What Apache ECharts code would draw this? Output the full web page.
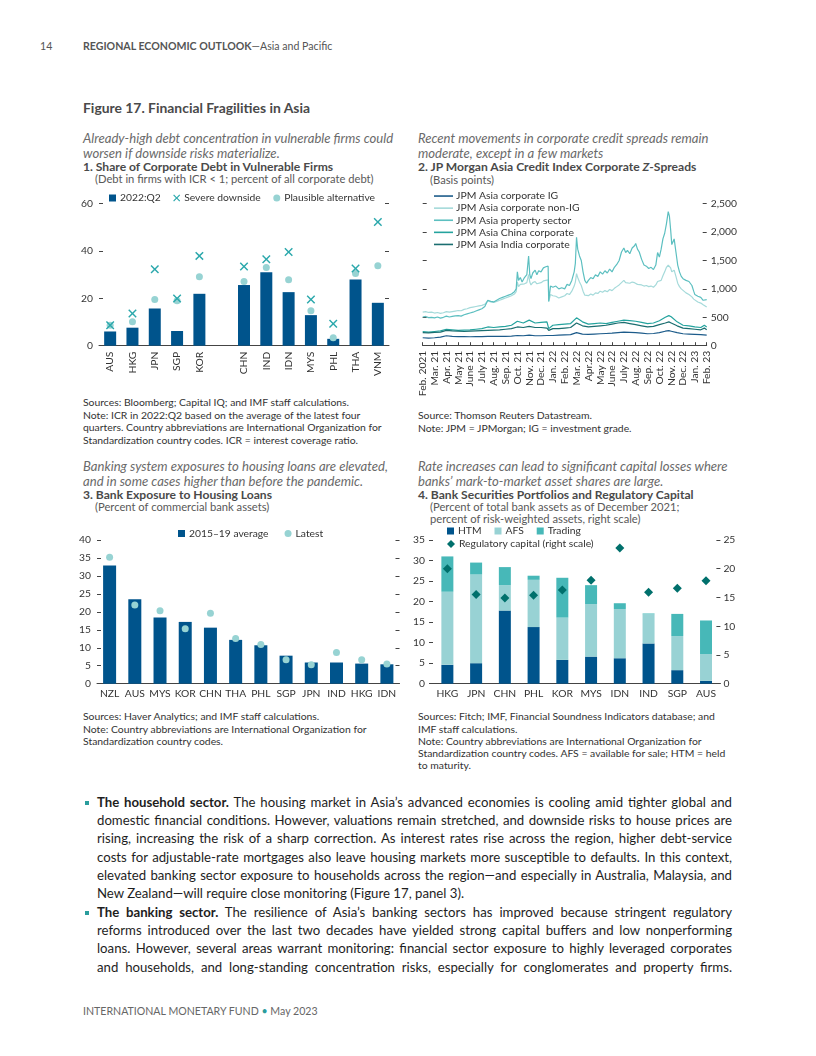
<!DOCTYPE html>
<html><head><meta charset="utf-8">
<script src="https://cdn.jsdelivr.net/npm/echarts@6.0.0/dist/echarts.min.js"></script>
<style>
html,body{margin:0;padding:0;background:#fff;}
#page{position:relative;width:816px;height:1056px;overflow:hidden;font-family:Lato,"Noto Sans",sans-serif;}
.t{position:absolute;white-space:nowrap;line-height:1;}
.hdr{font-size:10.6px;color:#555;}
.fig{font-size:13.9px;font-weight:bold;color:#4a4a4a;}
.ital{font-style:italic;color:#6a6a6a;font-size:13.1px;}
.ttl{font-weight:bold;color:#4a4a4a;font-size:12.1px;}
.sub{color:#595959;font-size:11.2px;}
.note{color:#333;font-size:10.4px;}
.body{color:#1e1e1e;font-size:13.2px;left:97px;width:635px;text-align:justify;text-align-last:justify;}
.last{text-align-last:left;}
.bul{position:absolute;left:85px;width:4px;height:4px;background:#2a9d9d;}
.chart{position:absolute;}
</style></head>
<body><div id="page">
<div class="t hdr" style="left:40px;top:41.2px;">14</div>
<div class="t hdr" style="left:83px;top:41.2px;"><b>REGIONAL ECONOMIC OUTLOOK</b>—Asia and Pacific</div>
<div class="t fig" style="left:83px;top:101.4px;">Figure 17. Financial Fragilities in Asia</div>

<div class="t ital" style="left:83px;top:131.8px;">Already-high debt concentration in vulnerable firms could</div>
<div class="t ital" style="left:83px;top:146.8px;">worsen if downside risks materialize.</div>
<div class="t ttl" style="left:83px;top:161.4px;">1. Share of Corporate Debt in Vulnerable Firms</div>
<div class="t sub" style="left:95px;top:172.9px;">(Debt in firms with ICR &lt; 1; percent of all corporate debt)</div>

<div class="t ital" style="left:418px;top:131.8px;">Recent movements in corporate credit spreads remain</div>
<div class="t ital" style="left:418px;top:146.8px;">moderate, except in a few markets</div>
<div class="t ttl" style="left:418px;top:161.4px;">2. JP Morgan Asia Credit Index Corporate <i>Z</i>-Spreads</div>
<div class="t sub" style="left:430px;top:173.8px;">(Basis points)</div>

<div class="t note" style="left:83px;top:397.3px;">Sources: Bloomberg; Capital IQ; and IMF staff calculations.</div>
<div class="t note" style="left:83px;top:409.7px;">Note: ICR in 2022:Q2 based on the average of the latest four</div>
<div class="t note" style="left:83px;top:422.1px;">quarters. Country abbreviations are International Organization for</div>
<div class="t note" style="left:83px;top:434.5px;">Standardization country codes. ICR = interest coverage ratio.</div>

<div class="t note" style="left:418px;top:410.3px;">Source: Thomson Reuters Datastream.</div>
<div class="t note" style="left:418px;top:422.7px;">Note: JPM = JPMorgan; IG = investment grade.</div>

<div class="t ital" style="left:83px;top:459.8px;">Banking system exposures to housing loans are elevated,</div>
<div class="t ital" style="left:83px;top:474.8px;">and in some cases higher than before the pandemic.</div>
<div class="t ttl" style="left:83px;top:489.4px;">3. Bank Exposure to Housing Loans</div>
<div class="t sub" style="left:95px;top:500.8px;">(Percent of commercial bank assets)</div>

<div class="t ital" style="left:418px;top:459.8px;">Rate increases can lead to significant capital losses where</div>
<div class="t ital" style="left:418px;top:474.8px;">banks’ mark-to-market asset shares are large.</div>
<div class="t ttl" style="left:418px;top:489.4px;">4. Bank Securities Portfolios and Regulatory Capital</div>
<div class="t sub" style="left:430px;top:500.8px;">(Percent of total bank assets as of December 2021;</div>
<div class="t sub" style="left:430px;top:512.8px;">percent of risk-weighted assets, right scale)</div>

<div class="t note" style="left:83px;top:711.3px;">Sources: Haver Analytics; and IMF staff calculations.</div>
<div class="t note" style="left:83px;top:723.5px;">Note: Country abbreviations are International Organization for</div>
<div class="t note" style="left:83px;top:735.7px;">Standardization country codes.</div>

<div class="t note" style="left:418px;top:711.3px;">Sources: Fitch; IMF, Financial Soundness Indicators database; and</div>
<div class="t note" style="left:418px;top:723.5px;">IMF staff calculations.</div>
<div class="t note" style="left:418px;top:735.7px;">Note: Country abbreviations are International Organization for</div>
<div class="t note" style="left:418px;top:747.9px;">Standardization country codes. AFS = available for sale; HTM = held</div>
<div class="t note" style="left:418px;top:760.1px;">to maturity.</div>

<div class="bul" style="top:801px;"></div>
<div class="t body" style="top:795.7px;"><b>The household sector.</b> The housing market in Asia’s advanced economies is cooling amid tighter global and</div>
<div class="t body" style="top:814px;">domestic financial conditions. However, valuations remain stretched, and downside risks to house prices are</div>
<div class="t body" style="top:832.3px;">rising, increasing the risk of a sharp correction. As interest rates rise across the region, higher debt-service</div>
<div class="t body" style="top:850.6px;">costs for adjustable-rate mortgages also leave housing markets more susceptible to defaults. In this context,</div>
<div class="t body" style="top:868.9px;">elevated banking sector exposure to households across the region—and especially in Australia, Malaysia, and</div>
<div class="t body last" style="top:887.2px;">New Zealand—will require close monitoring (Figure 17, panel 3).</div>
<div class="bul" style="top:911px;"></div>
<div class="t body" style="top:905.6px;"><b>The banking sector.</b> The resilience of Asia’s banking sectors has improved because stringent regulatory</div>
<div class="t body" style="top:923.9px;">reforms introduced over the last two decades have yielded strong capital buffers and low nonperforming</div>
<div class="t body" style="top:942.2px;">loans. However, several areas warrant monitoring: financial sector exposure to highly leveraged corporates</div>
<div class="t body" style="top:960.5px;">and households, and long-standing concentration risks, especially for conglomerates and property firms.</div>

<div class="t hdr" style="left:83px;top:1006.2px;color:#666;">INTERNATIONAL MONETARY FUND <span style="color:#2a9d9d;">•</span> May 2023</div>

<div id="c1" class="chart" style="left:75px;top:185px;width:335px;height:215px;"></div>
<div id="c2" class="chart" style="left:410px;top:185px;width:335px;height:215px;"></div>
<div id="c3" class="chart" style="left:75px;top:520px;width:335px;height:185px;"></div>
<div id="c4" class="chart" style="left:410px;top:520px;width:335px;height:185px;"></div>
</div>
<script>
// ---------- Panel 1 data ----------
const p1Countries = ['AUS','HKG','JPN','SGP','KOR','','CHN','IND','IDN','MYS','PHL','THA','VNM'];
const p1Q2 = [6.0,7.6,15.7,6.2,21.9,null,25.6,31.0,22.6,12.9,2.9,27.9,18.1];
const p1Severe = [8.6,13.6,32.3,19.9,37.9,null,33.4,36.5,39.5,19.5,9.3,32.6,52.2];
const p1Plausible = [8.6,10.1,19.5,19.0,29.1,null,27.1,33.0,27.8,14.7,3.4,30.5,33.7];

// ---------- Panel 2 data ----------
const p2Months = ['Feb. 2021','Mar. 21','Apr. 21','May 21','June 21','July 21','Aug. 21','Sep. 21','Oct. 21','Nov. 21','Dec. 21','Jan. 22','Feb. 22','Mar. 22','Apr.22','May 22','June 22','July 22','Aug. 22','Sep. 22','Oct. 22','Nov. 22','Dec. 22','Jan. 23','Feb. 23'];
const p2IG = [[0,140],[0.5,135],[1,140],[1.5,150],[2,175],[2.5,165],[3,160],[3.5,160],[4,158],[4.5,160],[5,160],[5.5,165],[6,165],[6.5,165],[7,165],[7.5,170],[8,180],[8.5,175],[9,185],[9.5,175],[10,175],[10.5,180],[11,180],[11.5,185],[12,190],[12.5,195],[13,230],[13.5,205],[14,200],[14.5,205],[15,210],[15.5,215],[16,220],[16.5,230],[17,240],[17.5,235],[18,230],[18.5,220],[19,210],[19.5,215],[20,230],[20.5,255],[20.8,265],[21,255],[21.5,230],[22,210],[22.5,205],[23,200],[23.5,195],[24,185]];
const p2NonIG = [[0,590],[0.25,600],[0.5,585],[0.75,590],[1,575],[1.25,585],[1.5,570],[1.75,580],[2,600],[2.25,590],[2.5,600],[2.75,610],[3,620],[3.25,615],[3.5,640],[3.75,650],[4,670],[4.25,680],[4.5,690],[4.75,700],[5,710],[5.25,730],[5.4,740],[5.5,790],[5.75,770],[6,760],[6.25,780],[6.5,800],[6.75,820],[7,840],[7.25,860],[7.5,880],[7.75,910],[7.9,950],[8.0,1120],[8.1,1040],[8.25,1080],[8.4,1050],[8.6,1090],[8.8,1110],[8.95,1250],[9.05,1120],[9.15,1070],[9.3,1110],[9.5,1130],[9.65,1090],[9.8,1120],[10,1110],[10.2,1140],[10.4,1150],[10.6,1160],[10.65,780],[10.8,900],[11,880],[11.25,870],[11.5,840],[11.75,860],[12,880],[12.2,920],[12.4,900],[12.6,960],[12.8,1050],[12.9,1120],[13.0,1270],[13.1,1200],[13.25,1120],[13.4,1060],[13.55,960],[13.7,890],[13.85,860],[14,880],[14.2,910],[14.4,890],[14.6,930],[14.8,920],[15,960],[15.2,940],[15.4,970],[15.6,950],[15.8,990],[16,970],[16.2,1010],[16.4,1040],[16.6,1070],[16.8,1110],[17,1150],[17.15,1110],[17.3,1130],[17.5,1100],[17.7,1120],[17.9,1110],[18.0,1100],[18.15,1080],[18.3,1090],[18.5,1070],[18.7,1050],[18.9,1060],[19.1,1040],[19.3,1050],[19.5,1030],[19.7,1070],[19.85,1130],[20,1100],[20.15,1150],[20.3,1230],[20.45,1300],[20.6,1380],[20.75,1420],[20.85,1410],[20.95,1370],[21.05,1300],[21.15,1320],[21.25,1330],[21.4,1220],[21.55,1100],[21.7,1040],[21.85,1000],[22,980],[22.25,930],[22.5,900],[22.75,860],[22.9,820],[23,800],[23.25,770],[23.5,750],[23.7,720],[23.85,700],[24,680]];
const p2Property = [[0,505],[0.25,515],[0.5,495],[0.75,500],[1,490],[1.25,505],[1.5,485],[1.75,500],[2,520],[2.25,505],[2.5,515],[2.75,525],[3,530],[3.25,520],[3.5,545],[3.75,560],[4,575],[4.25,590],[4.5,610],[4.75,630],[5,650],[5.25,690],[5.4,720],[5.5,800],[5.75,780],[6,770],[6.25,800],[6.5,830],[6.75,850],[7,870],[7.25,890],[7.5,910],[7.75,950],[7.9,1000],[8.0,1300],[8.1,1150],[8.25,1200],[8.4,1120],[8.6,1200],[8.8,1250],[8.95,1580],[9.05,1250],[9.15,1180],[9.3,1280],[9.5,1330],[9.65,1250],[9.8,1320],[10,1300],[10.2,1370],[10.4,1390],[10.6,1400],[10.65,780],[10.8,1050],[11,1030],[11.25,1050],[11.5,1000],[11.75,1020],[12,1000],[12.2,1080],[12.4,1060],[12.6,1150],[12.8,1300],[12.9,1450],[13.0,1910],[13.1,1700],[13.25,1580],[13.4,1500],[13.55,1300],[13.7,1150],[13.85,1100],[14,1150],[14.2,1200],[14.4,1180],[14.6,1250],[14.8,1220],[15,1300],[15.2,1260],[15.4,1320],[15.6,1280],[15.8,1350],[16,1300],[16.2,1380],[16.4,1430],[16.6,1500],[16.8,1650],[17,1720],[17.15,1640],[17.3,1680],[17.5,1620],[17.7,1720],[17.9,1760],[18.0,1800],[18.15,1700],[18.3,1650],[18.5,1520],[18.7,1420],[18.9,1400],[19.1,1360],[19.3,1380],[19.5,1340],[19.7,1420],[19.85,1640],[20,1560],[20.15,1700],[20.3,1880],[20.45,1980],[20.6,2150],[20.75,2360],[20.85,2280],[20.95,2050],[21.05,1780],[21.15,1830],[21.25,1880],[21.4,1650],[21.55,1420],[21.7,1300],[21.85,1220],[22,1180],[22.25,1150],[22.5,1130],[22.75,1060],[22.9,960],[23,900],[23.25,870],[23.5,850],[23.7,800],[23.85,770],[24,810]];
const p2China = [[0,250],[0.5,240],[1,250],[1.5,260],[2,290],[2.5,280],[3,270],[3.5,275],[4,280],[4.5,290],[5,300],[5.5,330],[6,320],[6.5,330],[7,340],[7.5,360],[8,430],[8.5,400],[9,450],[9.5,400],[10,410],[10.5,420],[10.65,300],[11,360],[11.5,370],[12,380],[12.5,390],[13,490],[13.5,420],[14,380],[14.5,390],[15,400],[15.5,390],[16,410],[16.5,430],[17,450],[17.5,440],[18,430],[18.5,410],[19,390],[19.5,400],[20,440],[20.5,500],[20.8,530],[21,510],[21.5,420],[22,360],[22.5,350],[23,330],[23.5,320],[23.8,360],[24,330]];
const p2India = [[0,230],[0.5,225],[1,235],[1.5,240],[2,270],[2.5,260],[3,255],[3.5,250],[4,255],[4.5,260],[5,265],[5.5,270],[6,275],[6.5,280],[7,290],[7.5,300],[8,330],[8.5,320],[9,340],[9.5,320],[10,320],[10.5,310],[10.65,270],[11,300],[11.5,300],[12,310],[12.5,320],[13,400],[13.5,350],[14,330],[14.5,340],[15,350],[15.5,360],[16,380],[16.5,400],[17,410],[17.5,390],[18,370],[18.5,350],[19,330],[19.5,340],[20,370],[20.5,400],[20.8,420],[21,400],[21.5,350],[22,310],[22.5,300],[23,290],[23.5,280],[23.8,310],[24,280]];

// ---------- Panel 3 data ----------
const p3Countries = ['NZL','AUS','MYS','KOR','CHN','THA','PHL','SGP','JPN','IND','HKG','IDN'];
const p3Avg = [32.9,23.5,18.4,17.2,15.6,12.2,10.7,7.8,5.9,5.9,5.6,5.4];
const p3Latest = [35.2,21.9,20.3,15.3,19.6,12.6,10.9,6.7,5.3,8.7,6.7,5.5];

// ---------- Panel 4 data ----------
const p4Countries = ['HKG','JPN','CHN','PHL','KOR','MYS','IDN','IND','SGP','AUS'];
const p4HTM = [4.6,5.0,17.8,13.8,5.8,6.6,6.2,9.8,3.3,0.7];
const p4AFS = [17.8,21.6,6.2,11.5,10.3,12.8,12.0,7.1,8.3,6.5];
const p4Trading = [8.6,2.9,4.4,1.0,9.7,4.6,1.4,0.2,5.4,8.2];
const p4RegCap = [20.0,15.5,14.9,15.4,16.3,18.0,23.6,15.9,16.6,17.9];

// ---------- styles ----------
const FONT = 'Lato';
const DARK = '#00548c', LIGHT = '#97d3d3', XCOL = '#2ba8ac';
const AXC = '#444';
const XPATH = 'path://M0,1.2 L1.2,0 L5,3.8 L8.8,0 L10,1.2 L6.2,5 L10,8.8 L8.8,10 L5,6.2 L1.2,10 L0,8.8 L3.8,5 Z';
const lbl = {fontFamily: FONT, fontSize: 10.3, color: '#333'};
const legText = {fontFamily: FONT, fontSize: 10.3, color: '#333', padding: [0, 0, 0, -1]};

function yAx(opts) {
  return Object.assign({
    type: 'value', min: 0,
    axisLine: {show: false},
    axisTick: {show: true, inside: true, length: 4, lineStyle: {color: AXC}},
    splitLine: {show: false},
    axisLabel: Object.assign({margin: 6}, lbl)
  }, opts);
}

// ---------- Chart 1 ----------
const c1 = echarts.init(document.getElementById('c1'), null, {renderer: 'canvas'});
c1.setOption({
  animation: false,
  textStyle: {fontFamily: FONT},
  grid: {left: 24, right: 21, top: 18.5, bottom: 54.3, containLabel: false, outerBoundsMode: 'none'},
  legend: {
    top: 8, left: 34, padding: 0, itemWidth: 7, itemHeight: 7, itemGap: 12.5,
    textStyle: legText,
    data: [{name: '2022:Q2', icon: 'rect'}, {name: 'Severe downside', icon: XPATH}, {name: 'Plausible alternative', icon: 'circle'}]
  },
  xAxis: {
    type: 'category', data: p1Countries,
    axisLine: {lineStyle: {color: AXC}},
    axisTick: {length: 4, lineStyle: {color: AXC}},
    axisLabel: Object.assign({rotate: 90, margin: 6, interval: 0}, lbl)
  },
  yAxis: [yAx({max: 60, interval: 20}), yAx({max: 60, interval: 20, position: 'right', axisLabel: {show: false}})],
  series: [
    {name: '2022:Q2', type: 'bar', data: p1Q2, barWidth: 12, itemStyle: {color: DARK}},
    {name: 'Plausible alternative', type: 'scatter', data: p1Plausible, symbol: 'circle', symbolSize: 7, itemStyle: {color: LIGHT, opacity: 1}},
    {name: 'Severe downside', type: 'scatter', data: p1Severe, symbol: XPATH, symbolSize: 8.5, itemStyle: {color: XCOL, opacity: 1}}
  ]
});

// ---------- Chart 2 ----------
const c2 = echarts.init(document.getElementById('c2'), null, {renderer: 'canvas'});
const lineS = (name, data, color, z) => ({name, type: 'line', data, showSymbol: false, symbol: 'none', z,
  lineStyle: {color, width: 1.2}, itemStyle: {color}});
c2.setOption({
  animation: false,
  textStyle: {fontFamily: FONT},
  grid: {left: 12.7, right: 38.3, top: 18.7, bottom: 54.3, containLabel: false, outerBoundsMode: 'none'},
  legend: {
    orient: 'vertical', top: 5, left: 24, padding: 0, itemWidth: 19, itemHeight: 1.6, itemGap: 0,
    icon: 'rect',
    textStyle: {fontFamily: FONT, fontSize: 10.4, color: '#333', lineHeight: 12.1, padding: [0, 0, 0, -2]},
    data: ['JPM Asia corporate IG', 'JPM Asia corporate non-IG', 'JPM Asia property sector', 'JPM Asia China corporate', 'JPM Asia India corporate']
  },
  xAxis: {
    type: 'value', min: 0, max: p2Months.length - 1, interval: 1,
    axisLine: {lineStyle: {color: AXC}},
    axisTick: {inside: true, length: 3.5, lineStyle: {color: AXC}},
    splitLine: {show: false},
    axisLabel: Object.assign({rotate: 90, margin: 5, formatter: v => p2Months[Math.round(v)] || ''}, lbl)
  },
  yAxis: [
    yAx({max: 2500, interval: 500, position: 'left', axisLabel: {show: false}}),
    yAx({max: 2500, interval: 500, position: 'right', axisLabel: Object.assign({margin: 4, formatter: v => v.toLocaleString('en-US')}, lbl)})
  ],
  series: [
    lineS('JPM Asia corporate IG', p2IG, '#1c5b8a', 5),
    lineS('JPM Asia corporate non-IG', p2NonIG, '#a5dada', 2),
    lineS('JPM Asia property sector', p2Property, '#5cbfc0', 3),
    lineS('JPM Asia China corporate', p2China, '#24a39e', 4),
    lineS('JPM Asia India corporate', p2India, '#1b6e70', 4)
  ]
});

// ---------- Chart 3 ----------
const c3 = echarts.init(document.getElementById('c3'), null, {renderer: 'canvas'});
c3.setOption({
  animation: false,
  textStyle: {fontFamily: FONT},
  grid: {left: 22, right: 10.5, top: 20, bottom: 21.3, containLabel: false, outerBoundsMode: 'none'},
  legend: {
    top: 8.5, left: 103, padding: 0, itemWidth: 7, itemHeight: 7, itemGap: 16,
    textStyle: legText,
    data: [{name: '2015–19 average', icon: 'rect'}, {name: 'Latest', icon: 'circle'}]
  },
  xAxis: {
    type: 'category', data: p3Countries,
    axisLine: {lineStyle: {color: AXC}},
    axisTick: {length: 4, lineStyle: {color: AXC}},
    axisLabel: Object.assign({margin: 5, interval: 0}, lbl)
  },
  yAxis: [yAx({max: 40, interval: 5}), yAx({max: 40, interval: 5, position: 'right', axisLabel: {show: false}})],
  series: [
    {name: '2015–19 average', type: 'bar', data: p3Avg, barWidth: 13, itemStyle: {color: DARK}},
    {name: 'Latest', type: 'scatter', data: p3Latest, symbolSize: 7, itemStyle: {color: LIGHT, opacity: 1}}
  ]
});

// ---------- Chart 4 ----------
const c4 = echarts.init(document.getElementById('c4'), null, {renderer: 'canvas'});
c4.setOption({
  animation: false,
  textStyle: {fontFamily: FONT},
  grid: {left: 23, right: 24.6, top: 20, bottom: 21.3, containLabel: false, outerBoundsMode: 'none'},
  legend: [
    {top: 6, left: 37, padding: 0, itemWidth: 7, itemHeight: 7, itemGap: 13,
     textStyle: legText,
     data: [{name: 'HTM', icon: 'rect'}, {name: 'AFS', icon: 'rect'}, {name: 'Trading', icon: 'rect'}]},
    {top: 19, left: 37, padding: 0, itemWidth: 8, itemHeight: 8, itemGap: 13,
     textStyle: legText,
     data: [{name: 'Regulatory capital (right scale)', icon: 'diamond'}]}
  ],
  xAxis: {
    type: 'category', data: p4Countries,
    axisLine: {lineStyle: {color: AXC}},
    axisTick: {length: 4, lineStyle: {color: AXC}},
    axisLabel: Object.assign({margin: 5, interval: 0}, lbl)
  },
  yAxis: [
    yAx({max: 35, interval: 5, axisTick: {show: true, inside: false, length: 4, lineStyle: {color: AXC}}, axisLabel: Object.assign({margin: 8}, lbl)}),
    yAx({max: 25, interval: 5, position: 'right', axisLabel: Object.assign({margin: 3}, lbl)})
  ],
  series: [
    {name: 'HTM', type: 'bar', stack: 's', data: p4HTM, barWidth: 12, itemStyle: {color: DARK}},
    {name: 'AFS', type: 'bar', stack: 's', data: p4AFS, barWidth: 12, itemStyle: {color: '#98d2d4'}},
    {name: 'Trading', type: 'bar', stack: 's', data: p4Trading, barWidth: 12, itemStyle: {color: '#47b8b8'}},
    {name: 'Regulatory capital (right scale)', type: 'scatter', yAxisIndex: 1, data: p4RegCap, symbol: 'diamond', symbolSize: 9, itemStyle: {color: '#00706c', opacity: 1}}
  ]
});
</script>
</body></html>
